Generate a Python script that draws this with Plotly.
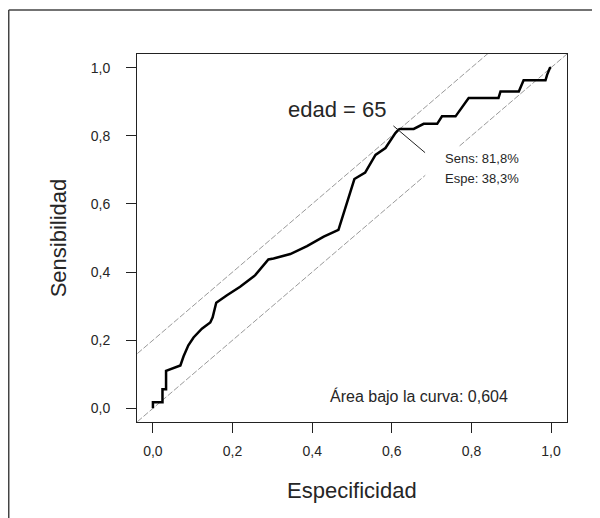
import plotly.graph_objects as go

# ROC curve (x = Especificidad axis as drawn, y = Sensibilidad)
roc_x = [0.0, 0.0, 0.024, 0.024, 0.033, 0.033, 0.069, 0.077, 0.089, 0.102, 0.123, 0.144,
         0.150, 0.159, 0.186, 0.219, 0.257, 0.290, 0.303, 0.345, 0.387, 0.429, 0.466,
         0.506, 0.533, 0.559, 0.584, 0.609, 0.617, 0.621, 0.655, 0.680, 0.714, 0.726,
         0.760, 0.772, 0.793, 0.868, 0.873, 0.919, 0.931, 0.986, 0.990, 0.997, 1.0]
roc_y = [0.0, 0.018, 0.018, 0.056, 0.056, 0.110, 0.126, 0.153, 0.185, 0.208, 0.234, 0.252,
         0.267, 0.310, 0.332, 0.357, 0.391, 0.437, 0.440, 0.453, 0.476, 0.504, 0.524,
         0.673, 0.692, 0.744, 0.764, 0.808, 0.818, 0.820, 0.820, 0.835, 0.835, 0.857,
         0.857, 0.876, 0.911, 0.911, 0.930, 0.930, 0.963, 0.963, 0.979, 0.999, 1.0]

diag_x = [-0.1, 1.1]
tangent_offset = 0.2           # parallel line touching the optimal cut-off
cut_x = [0.604, 0.684]          # small marker segment at the cut-off point
cut_y = [0.829, 0.750]

tick_vals = [0.0, 0.2, 0.4, 0.6, 0.8, 1.0]
tick_text = ["0,0", "0,2", "0,4", "0,6", "0,8", "1,0"]

FONT = "Liberation Sans, Arial, sans-serif"
TXT = "#262626"

fig = go.Figure()
fig.add_trace(go.Scatter(x=diag_x, y=diag_x, mode="lines",
                         line=dict(color="#9a9a9a", width=1, dash="6px,2px"),
                         hoverinfo="skip"))
fig.add_trace(go.Scatter(x=diag_x, y=[v + tangent_offset for v in diag_x], mode="lines",
                         line=dict(color="#9a9a9a", width=1, dash="6px,2px"),
                         hoverinfo="skip"))
fig.add_trace(go.Scatter(x=roc_x, y=roc_y, mode="lines",
                         line=dict(color="black", width=2.5), hoverinfo="skip"))
fig.add_trace(go.Scatter(x=cut_x, y=cut_y, mode="lines",
                         line=dict(color="#222222", width=1), hoverinfo="skip"))

axis_common = dict(
    tickvals=tick_vals, ticktext=tick_text, ticks="outside", ticklen=10,
    tickwidth=1, tickcolor="#222222", showgrid=False, zeroline=False,
    showline=True, linecolor="#222222", linewidth=1, mirror=True,
    tickfont=dict(family=FONT, size=14, color=TXT),
)

# page body adds an 8px offset, so the figure is 592x510 drawn at (8,8)
fig.update_layout(
    width=592, height=510,
    margin=dict(l=129, r=33, t=46, b=96),
    paper_bgcolor="white", plot_bgcolor="white",
    showlegend=False,
    xaxis=dict(range=[-0.04, 1.04], ticklabelstandoff=6, **axis_common),
    yaxis=dict(range=[-0.04, 1.04], ticklabelstandoff=13, **axis_common),
    font=dict(family=FONT, color=TXT),
)

# white box behind the Sens/Espe text (breaks the diagonal)
fig.add_shape(type="rect", xref="x", yref="y", x0=0.684, x1=0.93, y0=0.62, y1=0.768,
              fillcolor="white", line=dict(width=0), layer="above")

ann = [
    dict(text="edad = 65", x=0.463, y=0.876, xref="x", yref="y", size=22,
         xanchor="center"),
    dict(text="Sens: 81,8%", x=0.728, y=0.732, xref="x", yref="y", size=13,
         xanchor="left"),
    dict(text="Espe: 38,3%", x=0.728, y=0.676, xref="x", yref="y", size=13,
         xanchor="left"),
    dict(text="Área bajo la curva: 0,604", x=0.668, y=0.035, xref="x", yref="y",
         size=16, xanchor="center"),
]
for a in ann:
    fig.add_annotation(text=a["text"], x=a["x"], y=a["y"], xref=a["xref"], yref=a["yref"],
                       xanchor=a["xanchor"], yanchor="middle", showarrow=False,
                       font=dict(family=FONT, size=a["size"], color=TXT))

# axis titles
fig.add_annotation(text="Especificidad", x=0.5, y=-0.185, xref="paper", yref="paper",
                   xanchor="center", yanchor="middle", showarrow=False,
                   font=dict(family=FONT, size=22, color=TXT))
fig.add_annotation(text="Sensibilidad", x=-0.183, y=0.5, xref="paper", yref="paper",
                   xanchor="center", yanchor="middle", textangle=-90, showarrow=False,
                   font=dict(family=FONT, size=22, color=TXT))

# outer frame (left and top edges visible)
fig.add_shape(type="line", xref="paper", yref="paper", x0=-0.2983, x1=-0.2983, y0=1.1196, y1=-0.3,
              line=dict(color="#444444", width=1.5))
fig.add_shape(type="line", xref="paper", yref="paper", x0=-0.2983, x1=1.2, y0=1.1196, y1=1.1196,
              line=dict(color="#444444", width=1.5))

fig.write_html("out.html")
